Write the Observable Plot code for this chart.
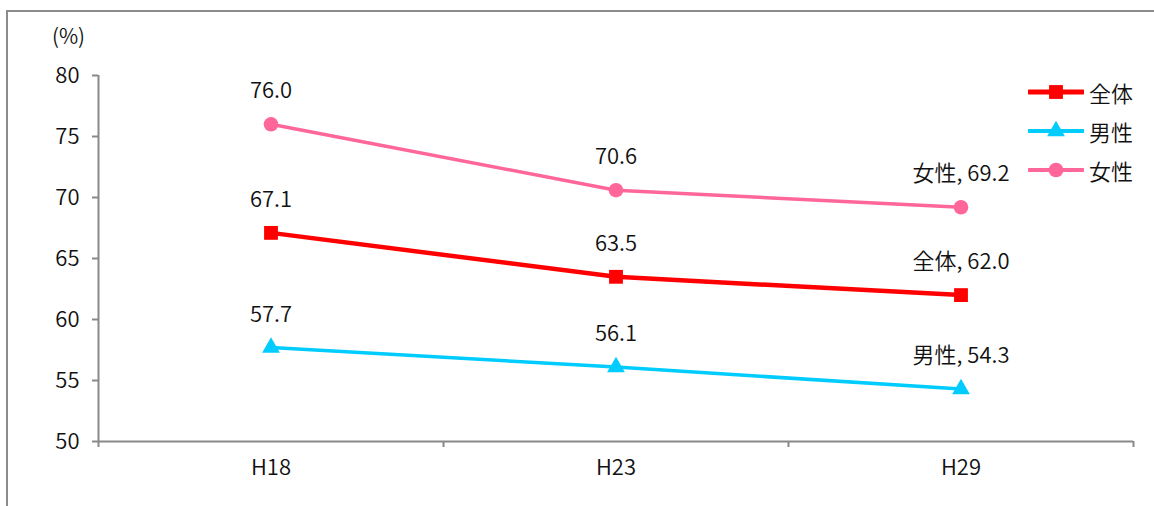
<!DOCTYPE html>
<html>
<head>
<meta charset="utf-8">
<script src="https://cdn.jsdelivr.net/npm/d3@7"></script>
<script src="https://cdn.jsdelivr.net/npm/@observablehq/plot@0.6"></script>
<style>
  body { margin: 0; background: #fff; font-family: "Noto Sans CJK JP", "Noto Sans", sans-serif; }
  #wrap { position: relative; width: 1154px; height: 506px; overflow: hidden; }
  #frame { position: absolute; left: 6px; top: 10px; right: -10px; bottom: -10px;
           border-top: 2px solid #8c8c8c; border-left: 2px solid #8c8c8c; pointer-events: none; }
  #chart { position: absolute; left: 0; top: 0; }
  #legend { position: absolute; left: 1028px; top: 72px; }
  .item { display: flex; align-items: center; height: 39px; margin-top: 0; }
  .item svg { display: block; }
  .item span { font-size: 22px; font-weight: 350; color: #111; margin-left: 5px; line-height: 22px; }
</style>
</head>
<body>
<div id="wrap">
  <div id="chart"></div>
  <div id="frame"></div>
  <div id="legend"></div>
</div>
<script>
// Survey years (category axis)
const years = ["H18", "H23", "H29"];

// Series names and their values (%)
const seriesNames = ["全体", "男性", "女性"];
const totalValues = [67.1, 63.5, 62.0];
const maleValues = [57.7, 56.1, 54.3];
const femaleValues = [76.0, 70.6, 69.2];

// Y axis ticks
const yTicks = [50, 55, 60, 65, 70, 75, 80];

const styles = {
  "全体": {color: "#ff0000", width: 4.5, symbol: "square", r: 7.8},
  "男性": {color: "#00ccff", width: 3.5, symbol: "triangle", r: 6.6},
  "女性": {color: "#ff6699", width: 3.5, symbol: "circle", r: 7.3}
};

const valuesBySeries = {"全体": totalValues, "男性": maleValues, "女性": femaleValues};

// One row per point; categories sit at the middle of each unit band
const rows = seriesNames.flatMap(name =>
  valuesBySeries[name].map((v, i) => ({
    series: name,
    x: i + 0.5,
    value: v,
    label: i === years.length - 1 ? `${name}, ${v.toFixed(1)}` : v.toFixed(1)
  }))
);

const axisColor = "#898989";
const textColor = "#111";

const marks = [
  Plot.ruleY([50], {stroke: axisColor, strokeWidth: 2}),
  Plot.ruleX([0], {stroke: axisColor, strokeWidth: 2}),
  Plot.axisY({ticks: yTicks, tickSize: 6, tickPadding: 13, label: null,
              stroke: axisColor, strokeWidth: 2, fill: textColor}),
  // band boundaries on the x axis
  Plot.axisX({ticks: d3.range(years.length + 1), tickSize: 6, tickFormat: () => "",
              label: null, stroke: axisColor, strokeWidth: 2}),
  // category labels
  Plot.axisX({ticks: years.map((_, i) => i + 0.5), tickSize: 0, tickPadding: 18,
              tickFormat: d => years[Math.floor(d)], label: null, fill: textColor}),
  Plot.text(["(%)"], {frameAnchor: "top-left", dx: -30, dy: -46, text: d => d,
                      textAnchor: "middle", fill: textColor, fontSize: 21})
];

for (const name of seriesNames) {
  const s = styles[name];
  const data = rows.filter(d => d.series === name);
  marks.push(Plot.line(data, {x: "x", y: "value", stroke: s.color, strokeWidth: s.width}));
  marks.push(Plot.dot(data, {x: "x", y: "value", symbol: s.symbol, fill: s.color, r: s.r, stroke: "none"}));
  marks.push(Plot.text(data, {x: "x", y: "value", text: "label", dy: -33, fill: textColor}));
}

const chart = Plot.plot({
  width: 1154,
  height: 506,
  marginLeft: 98,
  marginRight: 21,
  marginTop: 75,
  marginBottom: 65,
  x: {domain: [0, years.length]},
  y: {domain: [50, 80]},
  style: {fontFamily: '"Noto Sans CJK JP", "Noto Sans", sans-serif', fontSize: "22px",
          fontWeight: 350, background: "transparent", color: textColor},
  marks
});
document.getElementById("chart").appendChild(chart);

// Legend: line swatch with marker, then name
const legend = d3.select("#legend");
for (const name of seriesNames) {
  const s = styles[name];
  const item = legend.append("div").attr("class", "item");
  const svg = item.append("svg").attr("width", 56).attr("height", 20);
  svg.append("line").attr("x1", 1).attr("x2", 55).attr("y1", 10).attr("y2", 10)
    .attr("stroke", s.color).attr("stroke-width", s.width + 0.5).attr("stroke-linecap", "round");
  const sym = {square: d3.symbolSquare, triangle: d3.symbolTriangle, circle: d3.symbolCircle}[s.symbol];
  svg.append("path").attr("transform", "translate(28,10)")
    .attr("d", d3.symbol(sym, Math.PI * s.r * s.r)()).attr("fill", s.color);
  item.append("span").text(name);
}
</script>
</body>
</html>
